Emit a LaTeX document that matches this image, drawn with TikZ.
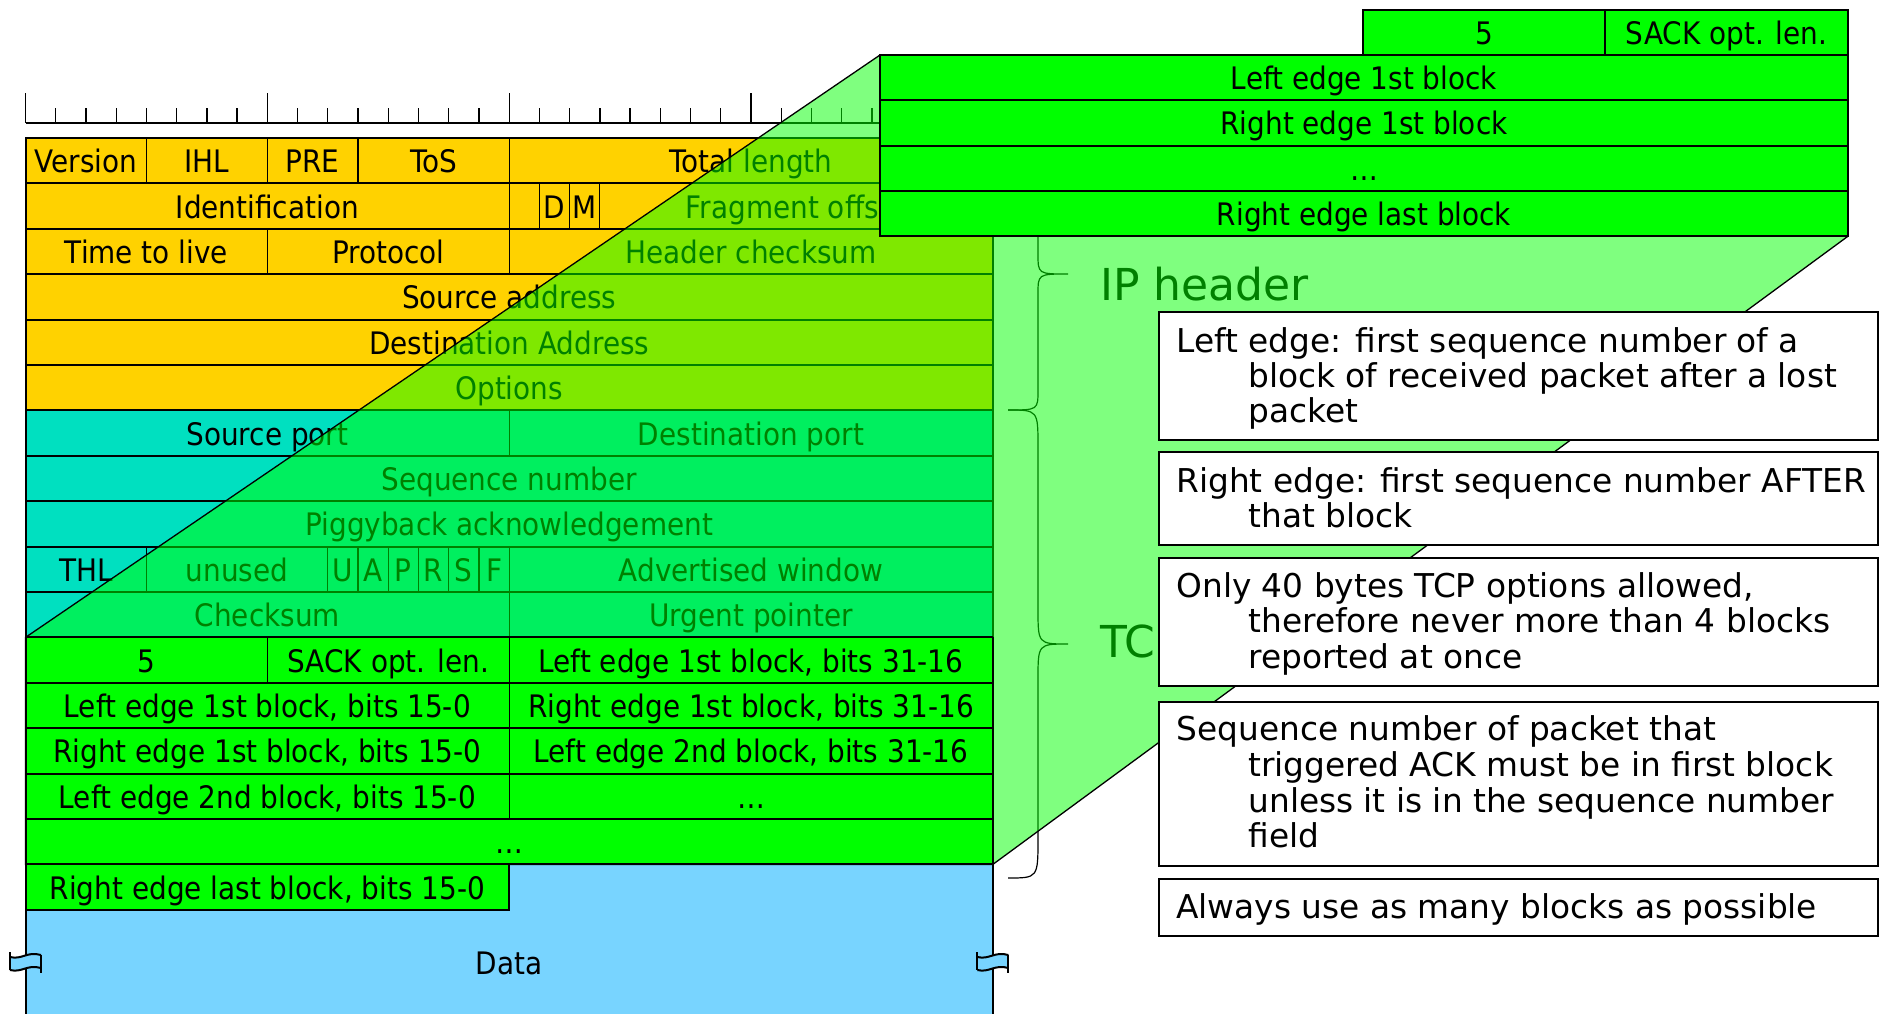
\documentclass[tikz,border=0pt]{standalone}
\usepackage{fontspec}
\setmainfont{DejaVu Sans}
\newfontfamily\cellfont[FakeStretch=0.9]{DejaVu Sans}
\definecolor{ipyellow}{HTML}{FFD200}
\definecolor{tcpteal}{HTML}{00E0C0}
\definecolor{sackgreen}{HTML}{00FF00}
\definecolor{datablue}{HTML}{78D4FF}
\def\Xo{25.5}
\def\Bw{30.23}
\def\Yo{138}
\def\Rh{45.4}
\newcommand{\pcell}[6]{%
  \path[fill=#5,thinline] ({\Xo+(#2)*\Bw},{\Yo+(#4)*\Rh}) rectangle ({\Xo+(#3)*\Bw},{\Yo+(#4+1)*\Rh});
  \node[celltext] (#1) at ({\Xo+(#2+#3)/2*\Bw},{\Yo+(#4+0.5)*\Rh}) {#6};%
}
\newcommand{\brkmark}[2]{%
  \fill[datablue] ({#1-15.5},957) .. controls ({#1-3.5},960) and ({#1+1.5},951) .. ({#1+15.5},955)
     -- ({#1+15.5},968) .. controls ({#1+1.5},964) and ({#1-3.5},973) .. ({#1-15.5},970) -- cycle;
  \draw[line width=1pt] ({#1-15.5},957) .. controls ({#1-3.5},960) and ({#1+1.5},951) .. ({#1+15.5},955);
  \draw[line width=1pt] ({#1+15.5},968) .. controls ({#1+1.5},964) and ({#1-3.5},973) .. ({#1-15.5},970);
  \draw[line width=1pt] ({#1-15.5},952) -- ({#1-15.5},970);
  \draw[line width=1pt] ({#1+15.5},955) -- ({#1+15.5},973);
  \coordinate (#2) at (#1,963);%
}
\begin{document}
\begin{tikzpicture}[x=0.5pt,y=-0.5pt,
  celltext/.style={font=\cellfont\fontsize{15.5}{18}\selectfont, inner sep=0pt, text height=12pt, text depth=0pt, anchor=center},
  thinline/.style={draw=black, line width=0.55pt},
  thickline/.style={draw=black, line width=1pt},
  notetext/.style={font=\fontsize{16.4}{19}\selectfont, inner sep=0pt, anchor=base west},
  notebox/.style={draw=black, fill=white, line width=0.9pt, inner sep=0pt, outer sep=0pt, anchor=north west, minimum width=359.5pt},
  hdrlabel/.style={font=\fontsize{22}{26}\selectfont, inner sep=0pt, anchor=base west},
  bigrow/.style={draw=black, fill=sackgreen, line width=1pt, inner sep=0pt, outer sep=0pt, anchor=north west,
     minimum height=22.65pt, font=\cellfont\fontsize{15.5}{18}\selectfont, text height=12pt, text depth=0pt},
  tickmark/.style={line width=0.65pt},
  bracestyle/.style={line width=0.6pt},
]
\useasboundingbox (0,0) rectangle (1881,1013);

% ---------- ruler ----------
\draw[line width=1pt] (\Xo,123) -- ({\Xo+32*\Bw},123);
\foreach \i in {1,...,31} \draw[tickmark] ({\Xo+\i*\Bw},123) -- ({\Xo+\i*\Bw},108);
\foreach \i in {0,8,16,24,32} \draw[tickmark] ({\Xo+\i*\Bw},123) -- ({\Xo+\i*\Bw},93);

% ---------- IP header ----------
\pcell{ver}{0}{4}{0}{ipyellow}{Version}
\pcell{ihl}{4}{8}{0}{ipyellow}{IHL}
\pcell{pre}{8}{11}{0}{ipyellow}{PRE}
\pcell{tos}{11}{16}{0}{ipyellow}{ToS}
\pcell{tlen}{16}{32}{0}{ipyellow}{Total length}
\pcell{ident}{0}{16}{1}{ipyellow}{Identification}
\pcell{blank}{16}{17}{1}{ipyellow}{}
\pcell{dfl}{17}{18}{1}{ipyellow}{D}
\pcell{mfl}{18}{19}{1}{ipyellow}{M}
\pcell{frag}{19}{32}{1}{ipyellow}{Fragment offset}
\pcell{ttl}{0}{8}{2}{ipyellow}{Time to live}
\pcell{proto}{8}{16}{2}{ipyellow}{Protocol}
\pcell{hcs}{16}{32}{2}{ipyellow}{Header checksum}
\pcell{srca}{0}{32}{3}{ipyellow}{Source address}
\pcell{dsta}{0}{32}{4}{ipyellow}{Destination Address}
\pcell{opts}{0}{32}{5}{ipyellow}{Options}

% ---------- TCP header ----------
\pcell{sport}{0}{16}{6}{tcpteal}{Source port}
\pcell{dport}{16}{32}{6}{tcpteal}{Destination port}
\pcell{seq}{0}{32}{7}{tcpteal}{Sequence number}
\pcell{ack}{0}{32}{8}{tcpteal}{Piggyback acknowledgement}
\pcell{thl}{0}{4}{9}{tcpteal}{THL}
\pcell{unused}{4}{10}{9}{tcpteal}{unused}
\pcell{fu}{10}{11}{9}{tcpteal}{U}
\pcell{fa}{11}{12}{9}{tcpteal}{A}
\pcell{fp}{12}{13}{9}{tcpteal}{P}
\pcell{fr}{13}{14}{9}{tcpteal}{R}
\pcell{fs}{14}{15}{9}{tcpteal}{S}
\pcell{ff}{15}{16}{9}{tcpteal}{F}
\pcell{win}{16}{32}{9}{tcpteal}{Advertised window}
\pcell{tcs}{0}{16}{10}{tcpteal}{Checksum}
\pcell{urg}{16}{32}{10}{tcpteal}{Urgent pointer}

\foreach \r in {0,...,11} \draw[thickline] (\Xo,{\Yo+\r*\Rh}) -- ({\Xo+32*\Bw},{\Yo+\r*\Rh});
\draw[thickline] (\Xo,\Yo) -- (\Xo,{\Yo+11*\Rh});
\draw[thickline] ({\Xo+32*\Bw},\Yo) -- ({\Xo+32*\Bw},{\Yo+11*\Rh});

% ---------- data ----------
\fill[datablue] (\Xo,{\Yo+16*\Rh}) rectangle ({\Xo+32*\Bw},1020);
\node[celltext] (data) at ({\Xo+16*\Bw},962) {Data};

% ---------- braces and labels ----------
\draw[bracestyle] (1008,138) .. controls (1038,138) .. (1038,158) -- (1038,254)
   .. controls (1038,274) .. (1068,274) .. controls (1038,274) .. (1038,294) -- (1038,390)
   .. controls (1038,410) .. (1008,410);
\draw[bracestyle] (1008,410) .. controls (1038,410) .. (1038,447) -- (1038,609)
   .. controls (1038,644) .. (1068,644) .. controls (1038,644) .. (1038,679) -- (1038,838)
   .. controls (1038,878) .. (1008,878);
\node[hdrlabel] (iplab) at (1100,300) {IP header};
\node[hdrlabel] (tcplab) at (1100,657) {TC};

% ---------- zoom overlay ----------
\coordinate (sTL) at (\Xo,{\Yo+11*\Rh});
\coordinate (sBR) at ({\Xo+32*\Bw},{\Yo+16*\Rh});
\coordinate (sBL) at (\Xo,{\Yo+16*\Rh});
\coordinate (bTL) at (880,55);
\coordinate (bTR) at (1848,55);
\coordinate (bBR) at (1848,236.2);
\path[fill=sackgreen, fill opacity=0.5, draw=black, line width=0.65pt]
   (sTL) -- (bTL) -- (bTR) -- (bBR) -- (sBR) -- (sBL) -- cycle;

% ---------- SACK option rows ----------
\pcell{sk5}{0}{8}{11}{sackgreen}{5}
\pcell{sklen}{8}{16}{11}{sackgreen}{SACK opt. len.}
\pcell{le1h}{16}{32}{11}{sackgreen}{Left edge 1st block, bits 31-16}
\pcell{le1l}{0}{16}{12}{sackgreen}{Left edge 1st block, bits 15-0}
\pcell{re1h}{16}{32}{12}{sackgreen}{Right edge 1st block, bits 31-16}
\pcell{re1l}{0}{16}{13}{sackgreen}{Right edge 1st block, bits 15-0}
\pcell{le2h}{16}{32}{13}{sackgreen}{Left edge 2nd block, bits 31-16}
\pcell{le2l}{0}{16}{14}{sackgreen}{Left edge 2nd block, bits 15-0}
\pcell{dotsa}{16}{32}{14}{sackgreen}{…}
\pcell{dotsb}{0}{32}{15}{sackgreen}{…}
\pcell{relast}{0}{16}{16}{sackgreen}{Right edge last block, bits 15-0}
\foreach \r in {11,...,16} \draw[thickline] (\Xo,{\Yo+\r*\Rh}) -- ({\Xo+32*\Bw},{\Yo+\r*\Rh});
\draw[thickline] (\Xo,{\Yo+17*\Rh}) -- ({\Xo+16*\Bw},{\Yo+17*\Rh}) -- ({\Xo+16*\Bw},{\Yo+16*\Rh});
\draw[thickline] (\Xo,{\Yo+11*\Rh}) -- (\Xo,1020);
\draw[thickline] ({\Xo+32*\Bw},{\Yo+11*\Rh}) -- ({\Xo+32*\Bw},1020);

% ---------- enlarged SACK box ----------
\node[bigrow, minimum width=121pt] (bsk5) at (1363,9.5) {5};
\node[bigrow, minimum width=121.5pt] (bsklen) at (1605,9.5) {SACK opt. len.};
\node[bigrow, minimum width=484pt] (ble1) at (880,55) {Left edge 1st block};
\node[bigrow, minimum width=484pt] (bre1) at (880,100.3) {Right edge 1st block};
\node[bigrow, minimum width=484pt] (bdots) at (880,145.6) {…};
\node[bigrow, minimum width=484pt] (brel) at (880,190.9) {Right edge last block};

% ---------- notes ----------
\node[notebox, minimum height=64pt] (nb1) at (1159,312) {};
\node[notetext] (n1a) at (1176,352) {Left edge: first sequence number of a};
\node[notetext] (n1b) at (1248,387) {block of received packet after a lost};
\node[notetext] (n1c) at (1248,422) {packet};
\node[notebox, minimum height=46.5pt] (nb2) at (1159,452) {};
\node[notetext] (n2a) at (1176,492) {Right edge: first sequence number AFTER};
\node[notetext] (n2b) at (1248,527) {that block};
\node[notebox, minimum height=64pt] (nb3) at (1159,558) {};
\node[notetext] (n3a) at (1176,597) {Only 40 bytes TCP options allowed,};
\node[notetext] (n3b) at (1248,632) {therefore never more than 4 blocks};
\node[notetext] (n3c) at (1248,668) {reported at once};
\node[notebox, minimum height=82pt] (nb4) at (1159,702) {};
\node[notetext] (n4a) at (1176,740) {Sequence number of packet that};
\node[notetext] (n4b) at (1248,776) {triggered ACK must be in first block};
\node[notetext] (n4c) at (1248,812) {unless it is in the sequence number};
\node[notetext] (n4d) at (1248,847) {field};
\node[notebox, minimum height=28.5pt] (nb5) at (1159,879) {};
\node[notetext] (n5a) at (1176,918) {Always use as many blocks as possible};

% ---------- break marks ----------
\brkmark{\Xo}{brkL}
\brkmark{992.86}{brkR}
\end{tikzpicture}
\end{document}
